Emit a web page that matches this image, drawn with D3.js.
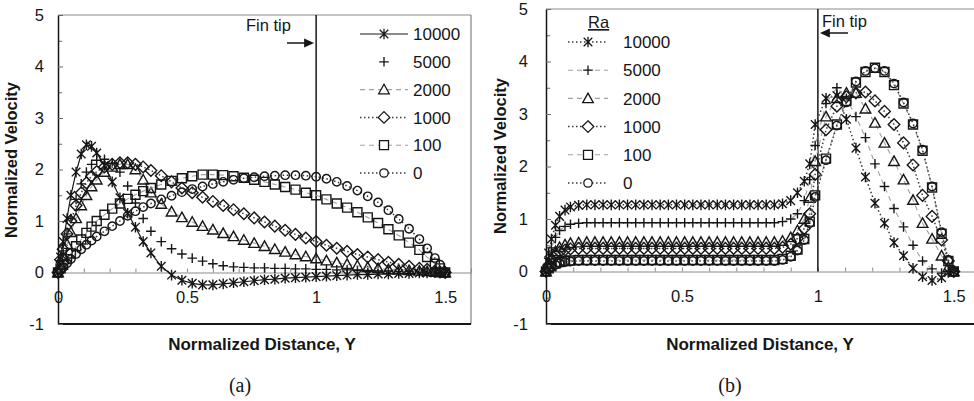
<!DOCTYPE html>
<html>
<head>
<meta charset="utf-8">
<script src="https://cdn.jsdelivr.net/npm/d3@7"></script>
<style>
  body { margin: 0; background: #fff; }
  svg { display: block; font-family: "Liberation Sans", Arial, sans-serif; }
</style>
</head>
<body>
<div id="chart"></div>
<script>
//--------DATA-------------

// Rayleigh numbers (legend order)
var raLabels = ["10000", "5000", "2000", "1000", "100", "0"];

// axis ticks
var yTicks = [-1, 0, 1, 2, 3, 4, 5];
var yMinorTicks = [-0.5, 0.5, 1.5, 2.5, 3.5, 4.5];
var xTicks = [0, 0.5, 1, 1.5];
var xMinorTicks = [0.1, 0.2, 0.3, 0.4, 0.6, 0.7, 0.8, 0.9, 1.1, 1.2, 1.3, 1.4, 1.6];

// panel (a): normalized distance and velocity per Ra
var distA = [0, 0.01, 0.02, 0.035, 0.05, 0.07, 0.09, 0.11, 0.13, 0.15, 0.18, 0.21, 0.24, 0.27, 0.3, 0.33,
  0.36, 0.4, 0.44, 0.48, 0.52, 0.56, 0.6, 0.64, 0.68, 0.72, 0.76, 0.8, 0.84, 0.88, 0.92, 0.96, 1.0,
  1.04, 1.08, 1.12, 1.16, 1.2, 1.24, 1.28, 1.32, 1.36, 1.4, 1.43, 1.46, 1.48, 1.5];
var velA10000 = [0, 0.3, 0.6, 1.05, 1.5, 1.95, 2.3, 2.48, 2.45, 2.32, 2.08, 1.76, 1.45, 1.15, 0.88, 0.6,
  0.38, 0.12, -0.05, -0.15, -0.21, -0.24, -0.24, -0.22, -0.2, -0.18, -0.16, -0.14, -0.13, -0.11, -0.1, -0.09, -0.08,
  -0.07, -0.06, -0.05, -0.04, -0.04, -0.03, -0.03, -0.02, -0.02, -0.01, -0.01, 0, 0, 0];
var velA5000 = [0, 0.2, 0.42, 0.75, 1.05, 1.42, 1.72, 1.95, 2.1, 2.18, 2.2, 2.12, 1.95, 1.68, 1.35, 1.05,
  0.8, 0.6, 0.46, 0.36, 0.28, 0.22, 0.17, 0.13, 0.11, 0.1, 0.09, 0.09, 0.08, 0.08, 0.07, 0.07, 0.06,
  0.06, 0.05, 0.05, 0.04, 0.04, 0.03, 0.03, 0.02, 0.02, 0.02, 0.01, 0.01, 0, 0];
var velA2000 = [0, 0.15, 0.3, 0.55, 0.78, 1.05, 1.3, 1.5, 1.67, 1.8, 1.95, 2.05, 2.1, 2.1, 2.0, 1.8,
  1.55, 1.33, 1.18, 1.07, 0.98, 0.9, 0.83, 0.76, 0.7, 0.63, 0.57, 0.51, 0.45, 0.4, 0.35, 0.31, 0.27,
  0.23, 0.19, 0.16, 0.13, 0.1, 0.08, 0.06, 0.05, 0.04, 0.03, 0.02, 0.01, 0, 0];
var velA1000 = [0, 0.25, 0.45, 0.75, 1.0, 1.3, 1.55, 1.74, 1.87, 1.96, 2.05, 2.1, 2.13, 2.13, 2.1, 2.05,
  1.98, 1.88, 1.76, 1.64, 1.55, 1.46, 1.38, 1.3, 1.22, 1.14, 1.06, 0.98, 0.9, 0.82, 0.74, 0.67, 0.6,
  0.53, 0.47, 0.41, 0.35, 0.3, 0.25, 0.2, 0.16, 0.12, 0.08, 0.06, 0.03, 0.01, 0];
var velA100 = [0, 0.08, 0.15, 0.26, 0.37, 0.51, 0.64, 0.77, 0.89, 1.0, 1.12, 1.24, 1.34, 1.43, 1.51, 1.58,
  1.64, 1.71, 1.78, 1.83, 1.87, 1.9, 1.9, 1.89, 1.87, 1.84, 1.8, 1.76, 1.71, 1.66, 1.61, 1.55, 1.5,
  1.42, 1.34, 1.26, 1.17, 1.07, 0.96, 0.84, 0.72, 0.58, 0.44, 0.3, 0.17, 0.08, 0];
var velA0 = [0, 0.05, 0.1, 0.18, 0.26, 0.36, 0.45, 0.54, 0.62, 0.7, 0.8, 0.9, 1.0, 1.1, 1.19, 1.27,
  1.34, 1.42, 1.49, 1.56, 1.62, 1.67, 1.72, 1.76, 1.8, 1.83, 1.85, 1.87, 1.88, 1.89, 1.89, 1.88, 1.86,
  1.82, 1.76, 1.68, 1.59, 1.48, 1.36, 1.21, 1.04, 0.85, 0.65, 0.47, 0.28, 0.15, 0];

// panel (b): normalized distance and velocity per Ra
var distB = [0, 0.01, 0.02, 0.035, 0.05, 0.07, 0.09, 0.12, 0.15, 0.18, 0.21, 0.24, 0.27, 0.3, 0.33, 0.36,
  0.39, 0.42, 0.45, 0.48, 0.51, 0.54, 0.57, 0.6, 0.63, 0.66, 0.69, 0.72, 0.75, 0.78, 0.81, 0.84, 0.87,
  0.9, 0.925, 0.95, 0.97, 0.99, 1.03, 1.07, 1.105, 1.14, 1.175, 1.21, 1.245, 1.28, 1.315, 1.35, 1.385,
  1.42, 1.455, 1.48, 1.5];
var velB10000 = [0, 0.35, 0.62, 0.88, 1.05, 1.17, 1.23, 1.26, 1.27, 1.27, 1.27, 1.27, 1.27, 1.27, 1.27, 1.27,
  1.27, 1.27, 1.27, 1.27, 1.27, 1.27, 1.27, 1.27, 1.27, 1.27, 1.27, 1.27, 1.27, 1.27, 1.27, 1.27, 1.29,
  1.35, 1.5, 1.72, 2.05, 2.8, 3.3, 3.35, 2.9, 2.35, 1.8, 1.3, 0.92, 0.55, 0.3, 0.06, -0.1,
  -0.17, -0.12, -0.02, 0];
var velB5000 = [0, 0.25, 0.45, 0.65, 0.78, 0.86, 0.9, 0.92, 0.93, 0.93, 0.93, 0.93, 0.93, 0.93, 0.93, 0.93,
  0.93, 0.93, 0.93, 0.93, 0.93, 0.93, 0.93, 0.93, 0.93, 0.93, 0.93, 0.93, 0.93, 0.93, 0.93, 0.93, 0.95,
  1.0, 1.1, 1.35, 1.75, 2.4, 3.2, 3.5, 3.3, 2.95, 2.55, 2.05, 1.62, 1.2, 0.85, 0.5, 0.2,
  0.05, -0.03, 0, 0];
var velB2000 = [0, 0.15, 0.27, 0.38, 0.46, 0.51, 0.54, 0.55, 0.56, 0.56, 0.56, 0.56, 0.56, 0.56, 0.56, 0.56,
  0.56, 0.56, 0.56, 0.56, 0.56, 0.56, 0.56, 0.56, 0.56, 0.56, 0.56, 0.56, 0.56, 0.56, 0.56, 0.56, 0.58,
  0.65, 0.78, 1.0, 1.4, 2.1, 2.95, 3.3, 3.4, 3.4, 3.1, 2.83, 2.45, 2.1, 1.75, 1.36, 0.92,
  0.62, 0.3, 0.08, 0];
var velB1000 = [0, 0.12, 0.22, 0.31, 0.37, 0.41, 0.43, 0.44, 0.44, 0.44, 0.44, 0.44, 0.44, 0.44, 0.44, 0.44,
  0.44, 0.44, 0.44, 0.44, 0.44, 0.44, 0.44, 0.44, 0.44, 0.44, 0.44, 0.44, 0.44, 0.44, 0.44, 0.44, 0.46,
  0.52, 0.63, 0.82, 1.1, 1.85, 2.7, 3.15, 3.33, 3.4, 3.42, 3.25, 3.05, 2.8, 2.45, 2.03, 1.45,
  1.05, 0.6, 0.2, 0];
var velB100 = [0, 0.06, 0.1, 0.15, 0.18, 0.2, 0.21, 0.22, 0.22, 0.22, 0.22, 0.22, 0.22, 0.22, 0.22, 0.22,
  0.22, 0.22, 0.22, 0.22, 0.22, 0.22, 0.22, 0.22, 0.22, 0.22, 0.22, 0.22, 0.22, 0.22, 0.22, 0.22, 0.24,
  0.3, 0.42, 0.62, 0.95, 1.45, 2.15, 2.8, 3.25, 3.6, 3.8, 3.88, 3.8, 3.55, 3.2, 2.8, 2.3,
  1.6, 0.72, 0.2, 0];
var velB0 = [0, 0.05, 0.09, 0.13, 0.16, 0.18, 0.19, 0.2, 0.2, 0.2, 0.2, 0.2, 0.2, 0.2, 0.2, 0.2,
  0.2, 0.2, 0.2, 0.2, 0.2, 0.2, 0.2, 0.2, 0.2, 0.2, 0.2, 0.2, 0.2, 0.2, 0.2, 0.2, 0.22,
  0.28, 0.4, 0.6, 0.92, 1.42, 2.12, 2.78, 3.22, 3.62, 3.82, 3.87, 3.82, 3.58, 3.22, 2.82, 2.32,
  1.62, 0.75, 0.22, 0];

//--------STYLES-------------

var markerShapes = ["star", "plus", "triangle", "diamond", "square", "circle"];
var lineStylesA = ["solid", "none", "dash", "dot", "dash", "dot"];
var lineStylesB = ["dot", "dash", "dash", "dot", "dash", "dot"];

var ink = "#161616";

//--------FUNCTION DEFINITIONS-------------

// outline path for each marker, centred on 0,0
function markerPath(shape) {
  switch(shape) {
    case "star":
      return "M-4.3,-4.3L4.3,4.3M-4.3,4.3L4.3,-4.3M0,-5.3V5.3";
    case "plus":
      return "M-4.8,0H4.8M0,-4.8V4.8";
    case "triangle":
      return "M0,-5.3L5.3,4.2L-5.3,4.2Z";
    case "diamond":
      return "M0,-5.8L5.8,0L0,5.8L-5.8,0Z";
    case "square":
      return "M-4.5,-4.5H4.5V4.5H-4.5Z";
    case "circle":
      return "M4.2,0A4.2,4.2 0 1,1 -4.2,0A4.2,4.2 0 1,1 4.2,0Z";
  }
}

// stroke settings for connecting lines
function styleLine(sel, style) {
  switch(style) {
    case "solid":
      sel.attr("stroke", ink).attr("stroke-width", 1.2);
      break;
    case "dash":
      sel.attr("stroke", "#a0a0a0").attr("stroke-width", 1.1).attr("stroke-dasharray", "5,4");
      break;
    case "dot":
      sel.attr("stroke", "#3a3a3a").attr("stroke-width", 1.5).attr("stroke-dasharray", "1.5,2.5");
      break;
    case "none":
      sel.attr("stroke", "none");
      break;
  }
  return sel;
}

function drawPanel(svg, cfg) {
  var x = d3.scaleLinear().domain([0, 1.6]).range([cfg.left, cfg.right]);
  var y = d3.scaleLinear().domain([-1, 5]).range([cfg.bottom, cfg.top]);
  var g = svg.append("g");

  // plot area frame
  g.append("line")
    .attr("x1", x(0)).attr("x2", x(1.6))
    .attr("y1", y(5)).attr("y2", y(5))
    .attr("stroke", "#8a8a8a").attr("stroke-width", 1);
  g.append("line")
    .attr("x1", x(1.6)).attr("x2", x(1.6))
    .attr("y1", y(5)).attr("y2", y(-1))
    .attr("stroke", "#6a6a6a").attr("stroke-width", 1);
  g.append("line")
    .attr("x1", x(0)).attr("x2", x(1.6))
    .attr("y1", y(-1)).attr("y2", y(-1))
    .attr("stroke", ink).attr("stroke-width", 2);

  // x axis crossing at zero
  var xMinor = g.append("g")
    .attr("transform", `translate(0, ${y(0)})`)
    .call(d3.axisBottom(x).tickValues(xMinorTicks).tickFormat("").tickSizeInner(-4).tickSizeOuter(0));
  xMinor.select(".domain").attr("stroke", "#8a8a8a");
  xMinor.selectAll(".tick line").attr("stroke", "#8a8a8a");

  var xAxis = g.append("g")
    .attr("transform", `translate(0, ${y(0)})`)
    .call(d3.axisBottom(x).tickValues(xTicks).tickFormat(d => String(d)).tickSizeInner(-4).tickSizeOuter(0).tickPadding(19));
  xAxis.select(".domain").remove();
  xAxis.selectAll(".tick line").attr("stroke", "#8a8a8a");
  xAxis.selectAll("text")
    .attr("font-size", "16.5px")
    .attr("font-family", "Liberation Sans, Arial, sans-serif")
    .attr("fill", ink);

  // y axis
  var yMinor = g.append("g")
    .attr("transform", `translate(${x(0)}, 0)`)
    .call(d3.axisLeft(y).tickValues(yMinorTicks).tickFormat("").tickSizeInner(-4).tickSizeOuter(0));
  yMinor.select(".domain").remove();
  yMinor.selectAll(".tick line").attr("stroke", "#6a6a6a");

  var yAxis = g.append("g")
    .attr("transform", `translate(${x(0)}, 0)`)
    .call(d3.axisLeft(y).tickValues(yTicks).tickFormat(d => String(d)).tickSizeInner(-5).tickSizeOuter(0).tickPadding(cfg.yPad));
  yAxis.select(".domain").attr("stroke", ink).attr("stroke-width", 1.5);
  yAxis.selectAll(".tick line").attr("stroke", "#6a6a6a");
  yAxis.selectAll("text")
    .attr("font-size", "16.5px")
    .attr("font-family", "Liberation Sans, Arial, sans-serif")
    .attr("fill", ink);

  // fin tip marker line
  g.append("line")
    .attr("x1", x(1)).attr("x2", x(1))
    .attr("y1", y(5)).attr("y2", y(0))
    .attr("stroke", ink).attr("stroke-width", 1.5);
  g.append("text")
    .attr("x", cfg.finTextX).attr("y", cfg.finTextY)
    .attr("font-size", "16.5px")
    .attr("fill", ink)
    .text("Fin tip");
  var ax0 = cfg.arrowFrom, ax1 = cfg.arrowDir > 0 ? x(1) - 2 : x(1) + 2, ay = cfg.arrowY;
  g.append("line")
    .attr("x1", ax0).attr("x2", ax1 - cfg.arrowDir * 8)
    .attr("y1", ay).attr("y2", ay)
    .attr("stroke", ink).attr("stroke-width", 1.5);
  g.append("path")
    .attr("d", `M${ax1},${ay}L${ax1 - cfg.arrowDir * 10},${ay - 4.5}L${ax1 - cfg.arrowDir * 10},${ay + 4.5}Z`)
    .attr("fill", ink);

  // series lines and markers
  var line = d3.line()
    .x(d => x(d[0]))
    .y(d => y(d[1]));

  cfg.series.forEach(function(vals, i) {
    var pts = cfg.dist.map((d, j) => [d, vals[j]]);
    var sg = g.append("g");
    styleLine(sg.append("path").datum(pts).attr("d", line).attr("fill", "none"), cfg.lines[i]);
    sg.selectAll("path.mk")
      .data(pts)
      .enter()
      .append("path")
      .attr("class", "mk")
      .attr("d", markerPath(markerShapes[i]))
      .attr("transform", d => `translate(${x(d[0])}, ${y(d[1])})`)
      .attr("fill", "none")
      .attr("stroke", ink)
      .attr("stroke-width", 1.4);
  });

  // legend
  var lg = g.append("g");
  if (cfg.legendTitle) {
    lg.append("text")
      .attr("x", cfg.legendTitle.x).attr("y", cfg.legendTitle.y)
      .attr("font-size", "16.5px").attr("fill", ink)
      .attr("text-decoration", "underline")
      .text("Ra");
  }
  raLabels.forEach(function(label, i) {
    var ly = cfg.legendY + i * cfg.legendStep;
    styleLine(lg.append("line")
      .attr("x1", cfg.legendX0).attr("x2", cfg.legendX1)
      .attr("y1", ly).attr("y2", ly), cfg.lines[i]);
    lg.append("path")
      .attr("d", markerPath(markerShapes[i]))
      .attr("transform", `translate(${(cfg.legendX0 + cfg.legendX1) / 2}, ${ly})`)
      .attr("fill", "#fff")
      .attr("stroke", ink)
      .attr("stroke-width", 1.3);
    lg.append("text")
      .attr("x", cfg.legendText).attr("y", ly)
      .attr("dy", "0.36em")
      .attr("font-size", "17px").attr("fill", ink)
      .text(label);
  });

  // axis titles and caption
  g.append("text")
    .attr("transform", `translate(${cfg.yTitleX}, ${cfg.yTitleY}) rotate(-90)`)
    .attr("text-anchor", "middle")
    .attr("font-size", "16.5px").attr("font-weight", "bold").attr("fill", ink)
    .text("Normalized Velocity");
  g.append("text")
    .attr("x", cfg.xTitleX).attr("y", 350)
    .attr("text-anchor", "middle")
    .attr("font-size", "17px").attr("font-weight", "bold").attr("fill", ink)
    .text("Normalized Distance, Y");
  g.append("text")
    .attr("x", cfg.captionX).attr("y", 392)
    .attr("text-anchor", "middle")
    .attr("font-family", "Liberation Serif, Times New Roman, serif")
    .attr("font-size", "20px").attr("fill", ink)
    .text(cfg.caption);
}

//--------MAIN-------------

var svg = d3.select("#chart")
  .append("svg")
  .attr("width", 974)
  .attr("height", 401);

drawPanel(svg, {
  left: 58, right: 471, top: 15, bottom: 324, yPad: 14,
  dist: distA,
  series: [velA10000, velA5000, velA2000, velA1000, velA100, velA0],
  lines: lineStylesA,
  finTextX: 246, finTextY: 31, arrowFrom: 287, arrowDir: 1, arrowY: 43,
  legendX0: 360, legendX1: 408, legendText: 413, legendY: 34, legendStep: 27.8,
  yTitleX: 17, yTitleY: 160, xTitleX: 262, captionX: 240, caption: "(a)"
});

drawPanel(svg, {
  left: 546, right: 981, top: 9, bottom: 324, yPad: 18,
  dist: distB,
  series: [velB10000, velB5000, velB2000, velB1000, velB100, velB0],
  lines: lineStylesB,
  finTextX: 822, finTextY: 27, arrowFrom: 848, arrowDir: -1, arrowY: 33,
  legendTitle: {x: 588, y: 28},
  legendX0: 568, legendX1: 608, legendText: 623, legendY: 42, legendStep: 28.2,
  yTitleX: 506, yTitleY: 156, xTitleX: 760, captionX: 730, caption: "(b)"
});
</script>
</body>
</html>
